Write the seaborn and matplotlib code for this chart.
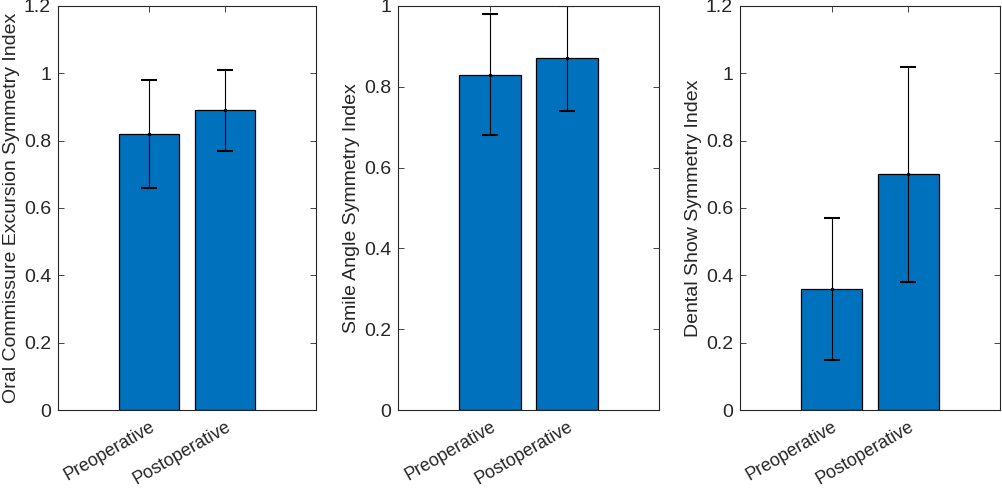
import matplotlib
matplotlib.use("Agg")
import matplotlib.pyplot as plt
import seaborn as sns
import numpy as np
from matplotlib.ticker import FuncFormatter

sns.set_style("white")
plt.rcParams['font.family'] = ['Liberation Sans', 'DejaVu Sans']

# data
groups = ["Preoperative", "Postoperative"]
oral_mean = [0.82, 0.89]
oral_err = [0.16, 0.12]
smile_mean = [0.83, 0.87]
smile_err = [0.15, 0.13]
dental_mean = [0.36, 0.70]
dental_err = [0.21, 0.32]

panels = [
    ("Oral Commissure Excursion Symmetry Index", oral_mean, oral_err, 1.2),
    ("Smile Angle Symmetry Index", smile_mean, smile_err, 1.0),
    ("Dental Show Symmetry Index", dental_mean, dental_err, 1.2),
]
positions = [
    [0.0579, 0.1598, 0.2575, 0.828],
    [0.3972, 0.1598, 0.2605, 0.828],
    [0.7385, 0.1598, 0.2595, 0.828],
]

fig = plt.figure(figsize=(10.02, 4.88), dpi=100)
bar_color = "#0072BD"
dark = "#262626"

for (label, means, errs, ymax), pos in zip(panels, positions):
    ax = fig.add_axes(pos)
    sns.barplot(x=groups, y=means, color=bar_color, saturation=1,
                edgecolor="black", linewidth=0.9, width=0.8, ax=ax)
    ax.errorbar(x=np.arange(len(groups)), y=means, yerr=errs, fmt='.',
                color="black", markersize=3, elinewidth=0.8,
                capsize=6, capthick=1.5)
    ax.set_xlim(-1.2, 2.2)
    ax.set_ylim(0, ymax)
    ax.set_yticks(np.arange(0, ymax + 0.01, 0.2))
    ax.yaxis.set_major_formatter(FuncFormatter(lambda v, p: f"{v:g}"))
    ax.set_ylabel(label, fontsize=14, color=dark, labelpad=3)
    ax.tick_params(axis='both', direction='in', length=4, width=0.6,
                   colors=dark, labelsize=14, top=True, right=True,
                   bottom=True, left=True)
    ax.tick_params(axis='y', pad=5)
    ax.tick_params(axis='x', pad=6)
    plt.setp(ax.get_xticklabels(), rotation=30, ha='right',
             rotation_mode='anchor', fontsize=13)
    for s in ax.spines.values():
        s.set_color(dark)
        s.set_linewidth(0.8)
        s.set_visible(True)

fig.savefig("out.png", dpi=100)
